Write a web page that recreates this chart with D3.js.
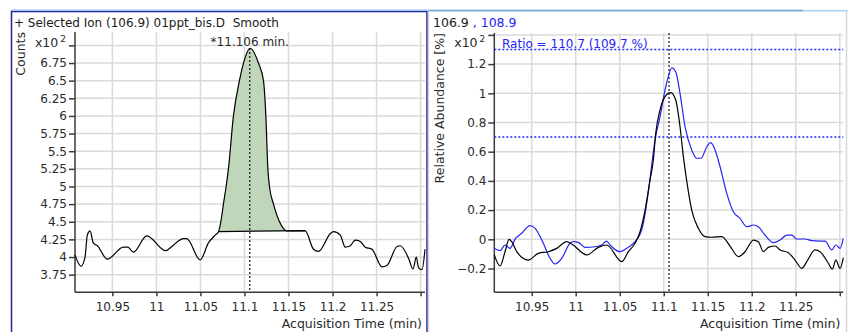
<!DOCTYPE html>
<html>
<head>
<meta charset="utf-8">
<script src="https://cdn.jsdelivr.net/npm/d3@7/dist/d3.min.js"></script>
<style>
  html, body { margin: 0; padding: 0; background: #fff; }
  svg { display: block; font-family: "DejaVu Sans", sans-serif; }
  .grid line { stroke: #dadada; stroke-width: 1.5; }
  .axis path, .axis line { stroke: #3a3a3a; stroke-width: 1.5; }
  .axis text { fill: #2a2a2a; font-size: 12px; font-family: "DejaVu Sans", sans-serif; }
</style>
</head>
<body>
<svg id="chart" width="854" height="332"></svg>
<script>
// ---- data (counts are x10^2, abundance is x10^2 %) ----
const xTicks = [10.95, 11, 11.05, 11.1, 11.15, 11.2, 11.25, 11.3];
const countTicks = [3.75, 4, 4.25, 4.5, 4.75, 5, 5.25, 5.5, 5.75, 6, 6.25, 6.5, 6.75, 7];
const abundTicks = [-0.2, 0, 0.2, 0.4, 0.6, 0.8, 1, 1.2, 1.4];

const eicTime = [10.9076, 10.9144, 10.919, 10.9216, 10.9247, 10.9284, 10.933, 10.9443, 10.9625, 10.9675,
  10.9739, 10.9891, 11.0107, 11.0175, 11.0307, 11.0345, 11.0497, 11.0591, 11.0667, 11.0705,
  11.0732, 11.0761, 11.0792, 11.0818, 11.0875, 11.0943, 11.0989, 11.1065, 11.1159, 11.1216,
  11.1243, 11.1266, 11.1284, 11.133, 11.1398, 11.1482, 11.169, 11.1784, 11.1841, 11.1974,
  11.2011, 11.2088, 11.2144, 11.2201, 11.2258, 11.2315, 11.2372, 11.2448, 11.2562, 11.2618,
  11.2732, 11.277, 11.2864, 11.2914, 11.2951, 11.2977, 11.3016, 11.305];
const eicCounts = [4.03, 3.87, 4.0, 4.31, 4.37, 4.2, 4.16, 3.97, 4.14, 4.14,
  4.07, 4.3, 4.09, 4.15, 4.26, 4.26, 3.96, 4.2, 4.31, 4.36,
  4.5, 4.75, 5.0, 5.25, 6.0, 6.5, 6.75, 6.96, 6.75, 6.5,
  6.0, 5.25, 5.0, 4.75, 4.5, 4.37, 4.37, 4.11, 4.08, 4.33,
  4.36, 4.31, 4.14, 4.16, 4.24, 4.22, 4.14, 4.11, 3.86, 3.88,
  4.15, 4.16, 3.98, 3.83, 4.0, 3.85, 3.82, 4.11];
// integration baseline (start, end)
const baseTime = [11.0705, 11.169];
const baseCounts = [4.36, 4.375];
const peakRT = 11.106;

const qualTime = [10.9075, 10.914, 10.9197, 10.9242, 10.9273, 10.933, 10.9461, 10.9575, 10.9689, 10.9784,
  10.9898, 10.9955, 11.0125, 11.0257, 11.0352, 11.0523, 11.0598, 11.0674, 11.0731, 11.0788,
  11.0844, 11.0882, 11.0909, 11.0958, 11.1015, 11.108, 11.1136, 11.1185, 11.1223, 11.128,
  11.1318, 11.1393, 11.147, 11.1545, 11.1659, 11.1753, 11.1848, 11.1924, 11.2018, 11.2075,
  11.2132, 11.2189, 11.2265, 11.2322, 11.2416, 11.2492, 11.2568, 11.2625, 11.2719, 11.2776,
  11.287, 11.2916, 11.2955, 11.3003, 11.304];
const qualAbund = [-0.107, -0.183, -0.085, 0.0, -0.016, -0.085, -0.142, -0.096, -0.085, -0.062,
  -0.016, -0.032, -0.107, -0.055, -0.039, -0.153, -0.085, -0.027, 0.052, 0.2,
  0.406, 0.543, 0.726, 0.886, 0.977, 1.004, 0.954, 0.771, 0.566, 0.326,
  0.2, 0.075, 0.018, 0.014, 0.018, -0.046, -0.119, -0.085, -0.005, -0.016,
  -0.085, -0.055, -0.046, -0.073, -0.092, -0.142, -0.199, -0.153, -0.073, -0.085,
  -0.164, -0.205, -0.142, -0.199, -0.125];

const ionTime = [10.9075, 10.914, 10.9197, 10.9253, 10.931, 10.9386, 10.948, 10.9538, 10.9632, 10.9708,
  10.9765, 10.9841, 10.9935, 10.9973, 11.003, 11.0106, 11.0219, 11.0295, 11.0352, 11.039,
  11.0503, 11.058, 11.0674, 11.075, 11.0795, 11.0833, 11.087, 11.0901, 11.0958, 11.1015,
  11.1052, 11.1091, 11.1136, 11.1185, 11.1242, 11.1318, 11.1375, 11.1424, 11.1489, 11.1534,
  11.1583, 11.164, 11.1716, 11.1791, 11.1867, 11.1943, 11.2018, 11.2075, 11.2151, 11.2245,
  11.2322, 11.2398, 11.2455, 11.2511, 11.2606, 11.2682, 11.2776, 11.2833, 11.2909, 11.2955,
  11.3003, 11.304];
const ionAbund = [-0.062, -0.078, -0.039, -0.062, 0.0, 0.041, 0.093, 0.075, -0.027, -0.13,
  -0.169, -0.13, -0.027, -0.016, -0.021, -0.055, -0.051, -0.039, -0.012, -0.039,
  -0.085, -0.062, -0.016, 0.064, 0.2, 0.36, 0.543, 0.68, 0.84, 1.023,
  1.114, 1.175, 1.148, 1.0, 0.771, 0.612, 0.555, 0.555, 0.634, 0.662,
  0.612, 0.497, 0.315, 0.189, 0.144, 0.086, 0.098, 0.086, 0.029, -0.023,
  -0.005, 0.029, 0.029, 0.002, 0.002, -0.009, -0.012, -0.012, -0.073, -0.039,
  -0.062, 0.007];
// ratio tolerance window
const ratioLimits = [1.3, 0.7];
const ratioLabel = "Ratio = 110.7 (109.7 %)";

const BLUE = "#2424f4";
const svg = d3.select("#chart");

// ---- panel frames ----
svg.append("rect").attr("x", 11.5).attr("y", 11.5).attr("width", 415.5).attr("height", 330)
  .attr("fill", "none").attr("stroke", "#22229a").attr("stroke-width", 1.5);
svg.append("line").attr("x1", 11).attr("x2", 427).attr("y1", 10).attr("y2", 10)
  .attr("stroke", "#a9cdf2").attr("stroke-width", 1.5);
svg.append("rect").attr("x", 428.5).attr("y", 11).attr("width", 418).attr("height", 330)
  .attr("fill", "none").attr("stroke", "#d4d8de").attr("stroke-width", 1.5);
svg.append("line").attr("x1", 428).attr("x2", 848).attr("y1", 10.5).attr("y2", 10.5)
  .attr("stroke", "#b6d6f6").attr("stroke-width", 1.5);
svg.append("line").attr("x1", 428).attr("x2", 803).attr("y1", 10.5).attr("y2", 10.5)
  .attr("stroke", "#7aa8dc").attr("stroke-width", 1.5);

function fmt(v) {
  return d3.format("~g")(v);
}

function drawFrame(g, x, y, yTicks, yLabelSkip) {
  const [x0, x1] = x.range();
  const [yb, yt] = y.range();

  const grid = g.append("g").attr("class", "grid");
  grid.selectAll("line.v").data(xTicks).join("line").attr("class", "v")
    .attr("x1", (d) => x(d)).attr("x2", (d) => x(d)).attr("y1", yt).attr("y2", yb);
  grid.selectAll("line.h").data(yTicks).join("line").attr("class", "h")
    .attr("x1", x0).attr("x2", x1).attr("y1", (d) => y(d)).attr("y2", (d) => y(d));

  g.append("g").attr("class", "axis")
    .attr("transform", `translate(0,${yb})`)
    .call(d3.axisBottom(x).tickValues(xTicks).tickSize(4).tickPadding(6)
      .tickFormat((d) => (d === 11.3 ? "" : fmt(d))))
    .call((a) => a.select(".domain").attr("d", `M${x0},0H${x1}`));

  g.append("g").attr("class", "axis")
    .attr("transform", `translate(${x0},0)`)
    .call(d3.axisLeft(y).tickValues(yTicks).tickSize(6).tickPadding(2)
      .tickFormat((d) => (d === yLabelSkip ? "" : fmt(d))))
    .call((a) => a.select(".domain").attr("d", `M0,${yt}V${yb}`));

  g.append("text")
    .attr("x", x1 - 3).attr("y", 328)
    .attr("text-anchor", "end")
    .attr("font-size", 12.5).attr("fill", "#2a2a2a")
    .text("Acquisition Time (min)");

  const ex = g.append("text")
    .attr("x", x0 - 9).attr("y", 47)
    .attr("text-anchor", "end")
    .attr("font-size", 12.5).attr("fill", "#2a2a2a");
  ex.append("tspan").text("x10");
  ex.append("tspan").attr("font-size", 9).attr("dx", 2).attr("dy", -5).text("2");
}

// ---- left: selected ion EIC ----
const xL = d3.scaleLinear().domain([10.9076, 11.305]).range([75, 425]);
const yL = d3.scaleLinear().domain([3.5, 7.19]).range([292.3, 32]);
const gL = svg.append("g");
drawFrame(gL, xL, yL, countTicks, 7);

const eic = eicTime.map((t, i) => ({ t, v: eicCounts[i] }));
const baseAt = d3.scaleLinear().domain(baseTime).range(baseCounts);
const peakPts = eic.filter((d) => d.t >= baseTime[0] && d.t <= 11.1482);

gL.append("path")
  .datum(peakPts)
  .attr("fill", "#bfd6bb")
  .attr("d", d3.area().curve(d3.curveMonotoneX)
    .x((d) => xL(d.t)).y0((d) => yL(baseAt(d.t))).y1((d) => yL(d.v)));

gL.append("line")
  .attr("x1", xL(baseTime[0])).attr("x2", xL(baseTime[1]))
  .attr("y1", yL(baseCounts[0])).attr("y2", yL(baseCounts[1]))
  .attr("stroke", "#000").attr("stroke-width", 1.2);

gL.append("line")
  .attr("x1", xL(peakRT)).attr("x2", xL(peakRT))
  .attr("y1", 48).attr("y2", 292)
  .attr("stroke", "#111").attr("stroke-width", 1.2).attr("stroke-dasharray", "2,2");

gL.append("path")
  .datum(eic)
  .attr("fill", "none").attr("stroke", "#000").attr("stroke-width", 1.2)
  .attr("d", d3.line().curve(d3.curveMonotoneX).x((d) => xL(d.t)).y((d) => yL(d.v)));

gL.append("text")
  .attr("x", xL(peakRT)).attr("y", 46)
  .attr("text-anchor", "middle").attr("font-size", 12).attr("fill", "#2a2a2a")
  .text("*" + peakRT + " min.");

gL.append("text")
  .attr("x", 14).attr("y", 27)
  .attr("font-size", 12).attr("fill", "#1a1a1a")
  .style("white-space", "pre")
  .text("+ Selected Ion (106.9) 01ppt_bis.D  Smooth");

gL.append("text")
  .attr("transform", "translate(25,32) rotate(-90)")
  .attr("text-anchor", "end").attr("font-size", 12.5).attr("fill", "#2a2a2a")
  .text("Counts");

// ---- right: qualifier ratio overlay ----
const xR = d3.scaleLinear().domain([10.9075, 11.304]).range([494.3, 843.3]);
const yR = d3.scaleLinear().domain([-0.363, 1.413]).range([292.3, 33]);
const gR = svg.append("g");
drawFrame(gR, xR, yR, abundTicks, 1.4);

gR.selectAll("line.limit").data(ratioLimits).join("line").attr("class", "limit")
  .attr("x1", xR.range()[0]).attr("x2", xR.range()[1])
  .attr("y1", (d) => yR(d)).attr("y2", (d) => yR(d))
  .attr("stroke", BLUE).attr("stroke-width", 1.5).attr("stroke-dasharray", "2,2");

gR.append("line")
  .attr("x1", xR(peakRT)).attr("x2", xR(peakRT))
  .attr("y1", 33).attr("y2", 292)
  .attr("stroke", "#111").attr("stroke-width", 1.2).attr("stroke-dasharray", "2,2");

const line = d3.line().curve(d3.curveMonotoneX).x((d) => xR(d.t)).y((d) => yR(d.v));

gR.append("path")
  .datum(ionTime.map((t, i) => ({ t, v: ionAbund[i] })))
  .attr("fill", "none").attr("stroke", BLUE).attr("stroke-width", 1.2)
  .attr("d", line);

gR.append("path")
  .datum(qualTime.map((t, i) => ({ t, v: qualAbund[i] })))
  .attr("fill", "none").attr("stroke", "#000").attr("stroke-width", 1.2)
  .attr("d", line);

gR.append("text")
  .attr("x", 502).attr("y", 48)
  .attr("font-size", 12).attr("fill", BLUE)
  .text(ratioLabel);

const hdr = gR.append("text").attr("x", 433).attr("y", 27).attr("font-size", 12.5);
hdr.append("tspan").attr("fill", "#1a1a1a").text("106.9");
hdr.append("tspan").attr("fill", BLUE).style("white-space", "pre").text(" , 108.9");

gR.append("text")
  .attr("transform", "translate(444,33) rotate(-90)")
  .attr("text-anchor", "end").attr("font-size", 12.5).attr("fill", "#2a2a2a")
  .text("Relative Abundance [%]");
</script>
</body>
</html>
